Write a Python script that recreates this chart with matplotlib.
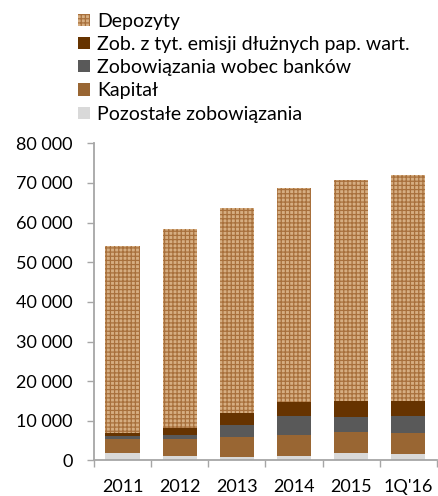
import numpy as np
import matplotlib.pyplot as plt
from matplotlib.patches import Patch

plt.rcParams['font.family'] = ['Lato', 'DejaVu Sans']
plt.rcParams['hatch.linewidth'] = 0.9

years = ['2011', '2012', '2013', '2014', '2015', "1Q'16"]

# wartosci w mln zl
pozostale = [1770, 1090, 840, 1090, 1850, 1600]
kapital = [3700, 4380, 4970, 5310, 5220, 5300]
banki = [590, 840, 3110, 4710, 3790, 4300]
zob_emisji = [930, 1940, 3120, 3700, 4210, 3870]
depozyty = [47180, 50210, 51650, 54000, 55680, 56940]

series = [
    ('Pozostałe zobowiązania', pozostale, '#d9d9d9'),
    ('Kapitał', kapital, '#996633'),
    ('Zobowiązania wobec banków', banki, '#595959'),
    ('Zob. z tyt. emisji dłużnych pap. wart.', zob_emisji, '#663300'),
]

fig = plt.figure(figsize=(4.39, 4.96), dpi=100)
ax = fig.add_axes([0.214, 0.0716, 0.781, 0.6394])

x = np.arange(len(years))
w = 0.6
bottom = np.zeros(len(years))
handles = []
for name, vals, col in series:
    ax.bar(x, vals, w, bottom=bottom, color=col, edgecolor='none', zorder=2)
    bottom += np.array(vals)
    handles.append(Patch(facecolor=col, label=name))

dep_face = '#d6ae82'
dep_line = '#a8703c'
ax.bar(x, depozyty, w, bottom=bottom, facecolor=dep_face, edgecolor=dep_line,
       hatch='++++', linewidth=0, zorder=2)
dep_handle = Patch(facecolor=dep_face, edgecolor=dep_line, hatch='++++',
                   linewidth=0, label='Depozyty')
handles = [dep_handle] + handles[::-1]

ax.set_xlim(-0.5, len(years) - 0.5)
ax.set_ylim(0, 80000)
ax.set_yticks(np.arange(0, 80001, 10000))
ax.set_yticklabels([f'{int(v):,}'.replace(',', ' ') for v in np.arange(0, 80001, 10000)])

ax.set_xticks(x)
ax.set_xticklabels(years)
ax.set_xticks(np.arange(-0.5, len(years), 1), minor=True)
ax.tick_params(axis='x', which='major', length=0, pad=13, labelsize=13)
ax.tick_params(axis='x', which='minor', length=5, color='#a6a6a6', width=1)
ax.tick_params(axis='y', length=5, color='#a6a6a6', width=1, labelsize=13, pad=10.5)

for s in ['top', 'right']:
    ax.spines[s].set_visible(False)
for s in ['left', 'bottom']:
    ax.spines[s].set_color('#a6a6a6')
    ax.spines[s].set_linewidth(1.3)

fig.legend(handles=handles, loc='upper left', bbox_to_anchor=(0.152, 0.998),
           frameon=False, fontsize=14, handlelength=0.6, handleheight=0.6,
           handletextpad=0.35, labelspacing=0.32, borderaxespad=0.2)

fig.savefig('out.png', dpi=100)
